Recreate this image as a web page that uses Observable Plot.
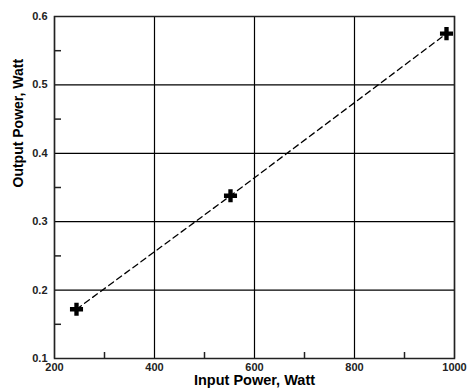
<!DOCTYPE html>
<html>
<head>
<meta charset="utf-8">
<script src="https://cdn.jsdelivr.net/npm/d3@7"></script>
<script src="https://cdn.jsdelivr.net/npm/@observablehq/plot@0.6"></script>
<style>
  html, body { margin: 0; padding: 0; background: #fff; }
  #chart svg { display: block; }
</style>
</head>
<body>
<div id="chart"></div>
<script>
const inputPower = [244, 552, 984];
const outputPower = [0.172, 0.338, 0.575];
const xMajorTicks = [200, 400, 600, 800, 1000];
const xMinorTicks = [300, 500, 700, 900];
const yMajorTicks = [0.1, 0.2, 0.3, 0.4, 0.5, 0.6];
const yMinorTicks = [0.15, 0.25, 0.35, 0.45, 0.55];
const xTitle = "Input Power, Watt";
const yTitle = "Output Power, Watt";

const data = inputPower.map((x, i) => ({x, y: outputPower[i]}));

const chart = Plot.plot({
  width: 467,
  height: 389,
  marginLeft: 54,
  marginRight: 13,
  marginTop: 16,
  marginBottom: 31,
  style: {fontFamily: "'Liberation Sans', Arial, sans-serif", background: "#fff", color: "#000"},
  x: {domain: [200, 1000]},
  y: {domain: [0.1, 0.6]},
  marks: [
    Plot.gridX(xMajorTicks, {stroke: "#000", strokeOpacity: 1, strokeWidth: 1.2}),
    Plot.gridY(yMajorTicks, {stroke: "#000", strokeOpacity: 1, strokeWidth: 1.2}),
    Plot.axisX(xMinorTicks, {tickSize: -6, text: null, stroke: "#222", strokeWidth: 1.5, label: null}),
    Plot.axisY(yMinorTicks, {tickSize: -7, text: null, stroke: "#222", strokeWidth: 1.5, label: null}),
    Plot.axisX(xMajorTicks, {tickSize: 0, tickPadding: 5, fontSize: 11, fontWeight: "bold", fill: "#222",
      tickFormat: d => String(d), label: null}),
    Plot.axisY(yMajorTicks, {tickSize: 0, tickPadding: 7, fontSize: 11, fontWeight: "bold", fill: "#222",
      tickFormat: d => d.toFixed(1), label: null}),
    Plot.text([xTitle], {frameAnchor: "bottom", dy: 22, lineAnchor: "middle", fontSize: 14.5, fontWeight: "bold", fill: "#000"}),
    Plot.text([yTitle], {frameAnchor: "left", dx: -36, rotate: -90, lineAnchor: "middle", fontSize: 14, fontWeight: "bold", fill: "#000"}),
    Plot.frame({stroke: "#222", strokeWidth: 1.5}),
    Plot.line(data, {x: "x", y: "y", stroke: "#000", strokeWidth: 1.3, strokeDasharray: "6,4"}),
    Plot.dot(data, {x: "x", y: "y", symbol: "cross", r: 5.5, fill: "#000", stroke: "none"})
  ]
});
document.getElementById("chart").appendChild(chart);
</script>
</body>
</html>
